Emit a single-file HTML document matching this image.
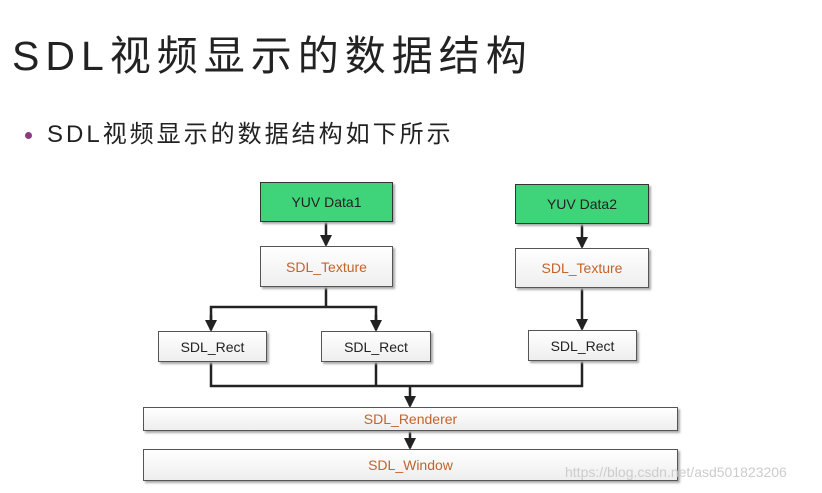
<!DOCTYPE html>
<html><head><meta charset="utf-8"><style>
body{margin:0;width:822px;height:493px;background:#fff;overflow:hidden;position:relative;font-family:"Liberation Sans","Noto Sans CJK SC",sans-serif}
.t{position:absolute;left:12px;top:31px;font-size:41px;line-height:50px;color:#222;letter-spacing:6px;white-space:nowrap}
.b{position:absolute;left:47px;top:119px;font-size:24px;line-height:32px;color:#222;letter-spacing:3px;white-space:nowrap}
.dot{position:absolute;left:25px;top:132px;width:7px;height:7px;border-radius:50%;background:#8a3c80}
.n{position:absolute;box-sizing:border-box;border:1.5px solid #555;background:linear-gradient(#fff,#eee);display:flex;align-items:center;justify-content:center;font-size:14px;color:#222;box-shadow:2px 2px 2px #aaa}
.g{background:#3fd47a;border-color:#333}
.o{color:#c4632a}
.w{position:absolute;left:565px;top:464px;font-size:14px;color:#ccc;white-space:nowrap}
</style></head><body>
<div class="t">SDL视频显示的数据结构</div>
<div class="dot"></div>
<div class="b">SDL视频显示的数据结构如下所示</div>
<svg width="822" height="493" style="position:absolute;left:0;top:0">
<defs><marker id="a" markerWidth="12" markerHeight="12" refX="10" refY="6" orient="auto" markerUnits="userSpaceOnUse"><path d="M0,0L12,6L0,12z" fill="#222"/></marker></defs>
<g stroke="#222" stroke-width="2.5" fill="none">
<line x1="326" y1="222" x2="326" y2="245" marker-end="url(#a)"/>
<line x1="582" y1="224" x2="582" y2="247" marker-end="url(#a)"/>
<line x1="326" y1="287" x2="326" y2="307"/>
<polyline points="211,329 211,307 376,307 376,329" />
<line x1="211" y1="315" x2="211" y2="330" marker-end="url(#a)"/>
<line x1="376" y1="315" x2="376" y2="330" marker-end="url(#a)"/>
<line x1="582" y1="288" x2="582" y2="329" marker-end="url(#a)"/>
<polyline points="211,362 211,386 582,386 582,361"/>
<line x1="376" y1="362" x2="376" y2="386"/>
<line x1="410" y1="386" x2="410" y2="406" marker-end="url(#a)"/>
<line x1="410" y1="431" x2="410" y2="448" marker-end="url(#a)"/>
</g></svg>
<div class="n g" style="left:260px;top:182px;width:133px;height:40px">YUV Data1</div>
<div class="n g" style="left:515px;top:184px;width:134px;height:40px">YUV Data2</div>
<div class="n o" style="left:260px;top:246px;width:133px;height:41px">SDL_Texture</div>
<div class="n o" style="left:515px;top:248px;width:134px;height:40px">SDL_Texture</div>
<div class="n" style="left:158px;top:331px;width:109px;height:31px">SDL_Rect</div>
<div class="n" style="left:321px;top:331px;width:110px;height:31px">SDL_Rect</div>
<div class="n" style="left:528px;top:330px;width:109px;height:31px">SDL_Rect</div>
<div class="n o" style="left:143px;top:407px;width:535px;height:24px">SDL_Renderer</div>
<div class="n o" style="left:143px;top:449px;width:535px;height:32px">SDL_Window</div>
<div class="w">https://blog.csdn.net/asd501823206</div>
</body></html>
